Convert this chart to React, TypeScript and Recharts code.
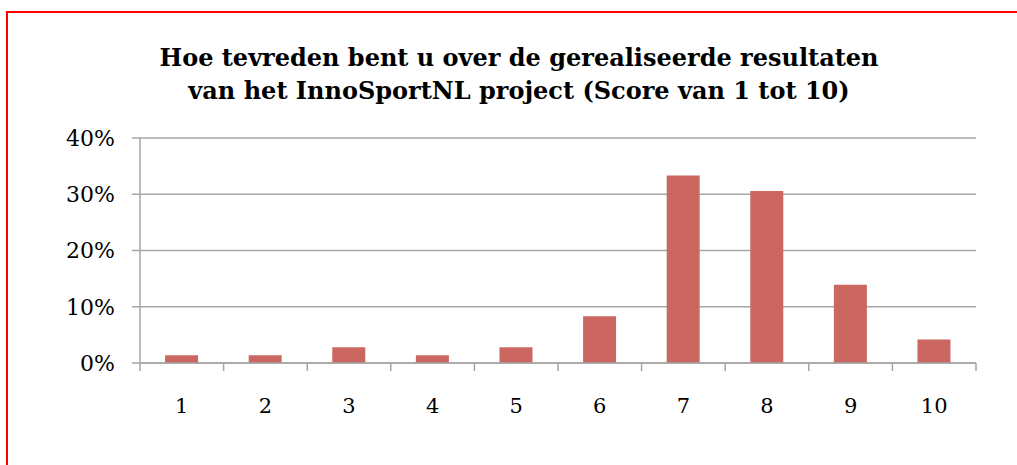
import { Bar, BarChart, CartesianGrid, XAxis, YAxis } from "recharts";

const scores = ["1", "2", "3", "4", "5", "6", "7", "8", "9", "10"];
const shares = [1.39, 1.39, 2.78, 1.39, 2.78, 8.33, 33.33, 30.56, 13.89, 4.17];
const yTicks = [0, 10, 20, 30, 40];
const titleLines = [
  "Hoe tevreden bent u over de gerealiseerde resultaten",
  "van het InnoSportNL project (Score van 1 tot 10)",
];

const data = scores.map((score, i) => ({ score, share: shares[i] }));

const W = 1017;
const H = 465;
const PLOT_LEFT = 140;
const PLOT_RIGHT = 976;
const BAND = (PLOT_RIGHT - PLOT_LEFT) / scores.length;
const FONT = "'DejaVu Serif', Georgia, serif";
const AXIS = "#a6a6a6";

function ScoreTick(props: any) {
  const { x, y, payload, index } = props;
  const axisY = y - 8 - 42;
  const left = x - BAND / 2;
  return (
    <g>
      <line x1={left} x2={left} y1={axisY} y2={axisY + 8} stroke={AXIS} strokeWidth={1.5} />
      {index === scores.length - 1 && (
        <line x1={x + BAND / 2} x2={x + BAND / 2} y1={axisY} y2={axisY + 8} stroke={AXIS} strokeWidth={1.5} />
      )}
      <text x={x} y={y} textAnchor="middle" fill="#000" fontFamily={FONT} fontSize={21}>
        {payload.value}
      </text>
    </g>
  );
}

export default function App() {
  return (
    <div style={{ position: "absolute", left: 0, top: 0, width: W, height: H, background: "#fff" }}>
      <div
        style={{
          position: "absolute",
          left: 6,
          top: 11,
          right: -10,
          bottom: -10,
          borderLeft: "2px solid #ff0000",
          borderTop: "2px solid #ff0000",
        }}
      />
      <div
        style={{
          position: "absolute",
          left: 0,
          width: 1038,
          top: 41,
          textAlign: "center",
          fontFamily: FONT,
          fontWeight: "bold",
          fontSize: 24,
          lineHeight: "33px",
          color: "#000",
        }}
      >
        {titleLines.map((l) => (
          <div key={l}>{l}</div>
        ))}
      </div>
      <div style={{ position: "absolute", left: 0, top: 0 }}>
        <BarChart
          width={W}
          height={H}
          data={data}
          margin={{ top: 138, right: W - PLOT_RIGHT, bottom: 42, left: 0 }}
          barCategoryGap="30%"
        >
          <CartesianGrid vertical={false} stroke={AXIS} strokeWidth={1.5} />
          <XAxis
            dataKey="score"
            axisLine={{ stroke: AXIS, strokeWidth: 1.5 }}
            tickLine={false}
            tickSize={8}
            tickMargin={42}
            height={60}
            interval={0}
            tick={<ScoreTick />}
          />
          <YAxis
            domain={[0, 40]}
            ticks={yTicks}
            width={PLOT_LEFT}
            axisLine={{ stroke: AXIS, strokeWidth: 1.5 }}
            tickLine={{ stroke: AXIS, strokeWidth: 1.5 }}
            tickSize={8}
            tickMargin={17}
            tickFormatter={(v: number) => `${v}%`}
            tick={{ fill: "#000", fontFamily: FONT, fontSize: 22 }}
          />
          <Bar dataKey="share" fill="#cc6661" isAnimationActive={false} />
        </BarChart>
      </div>
    </div>
  );
}
